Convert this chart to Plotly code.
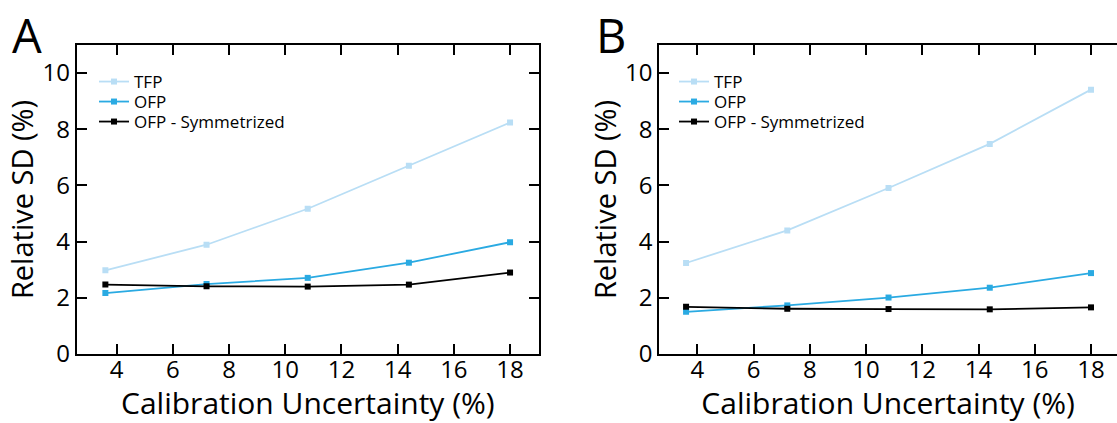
import plotly.graph_objects as go

x_vals = [3.6, 7.2, 10.8, 14.4, 18.0]

a_tfp = [2.98, 3.89, 5.17, 6.70, 8.24]
a_ofp = [2.17, 2.49, 2.71, 3.25, 3.98]
a_sym = [2.47, 2.41, 2.40, 2.47, 2.90]

b_tfp = [3.24, 4.40, 5.91, 7.48, 9.41]
b_ofp = [1.50, 1.73, 2.01, 2.36, 2.88]
b_sym = [1.68, 1.61, 1.60, 1.59, 1.66]

series_names = ["TFP", "OFP", "OFP - Symmetrized"]
series_colors = ["#b9def5", "#2aaae2", "#000000"]

x_ticks = [4, 6, 8, 10, 12, 14, 16, 18]
y_ticks = [0, 2, 4, 6, 8, 10]
x_title = "Calibration Uncertainty (%)"
y_title = "Relative SD (%)"
panel_labels = ["A", "B"]

FONT = "Open Sans"
W, H = 1117, 423

# pixel geometry
mt, mb = 45, 69
ph = H - mt - mb
ax_l, ax_r = 76.7, 539.0
bx_l = 659.3
legend_rows_px = [82, 102, 122]
legend_x_px = [94, 674]

fig = go.Figure()
layout_legends = {}
lid = 1
for p, (xa, ya, data) in enumerate([("x", "y", [a_tfp, a_ofp, a_sym]),
                                     ("x2", "y2", [b_tfp, b_ofp, b_sym])]):
    for k, (name, col, ys) in enumerate(zip(series_names, series_colors, data)):
        key = "legend" if lid == 1 else f"legend{lid}"
        fig.add_trace(go.Scatter(x=x_vals, y=ys, mode="lines+markers", name=name,
                                 line=dict(color=col, width=1.8),
                                 marker=dict(symbol="square", size=6, color=col),
                                 xaxis=xa, yaxis=ya, showlegend=True, legend=key))
        layout_legends[key] = dict(
            x=legend_x_px[p] / W, y=1 - (legend_rows_px[k] - mt) / ph,
            xanchor="left", yanchor="middle",
            font=dict(family=FONT, size=17, color="black"),
            bgcolor="rgba(0,0,0,0)", itemwidth=30)
        lid += 1

common_x = dict(tickvals=x_ticks, ticks="inside", ticklen=10, tickwidth=2, tickcolor="black",
                showline=True, linewidth=2, linecolor="black", mirror="ticks",
                showgrid=False, zeroline=False, automargin=False, ticklabelstandoff=-7,
                tickfont=dict(family=FONT, size=24, color="black"),
                title=dict(text=x_title, font=dict(family=FONT, size=30, color="black"), standoff=8))
common_y = dict(tickvals=y_ticks, ticks="inside", ticklen=10, tickwidth=2, tickcolor="black",
                showline=True, linewidth=2, linecolor="black",
                showgrid=False, zeroline=False, automargin=False, range=[0, 11],
                tickfont=dict(family=FONT, size=24, color="black"),
                title=dict(text=y_title, font=dict(family=FONT, size=29, color="black"), standoff=0))

fig.update_layout(
    width=W, height=H,
    margin=dict(l=0, r=0, t=mt, b=mb),
    paper_bgcolor="white", plot_bgcolor="white",
    template="none",
    xaxis=dict(domain=[ax_l / W, ax_r / W], range=[2.58, 19.03], anchor="y", **common_x),
    yaxis=dict(domain=[0, 1], anchor="x", mirror="ticks", **common_y),
    xaxis2=dict(domain=[bx_l / W, 1.0], range=[2.648, 18.925], anchor="y2", **common_x),
    yaxis2=dict(domain=[0, 1], anchor="x2", mirror=False, **common_y),
    yaxis3=dict(overlaying="y2", side="right", anchor="x2", range=[0, 11], tickvals=y_ticks,
                ticks="inside", ticklen=10, tickwidth=2, tickcolor="black",
                showticklabels=False, showline=False, showgrid=False, zeroline=False),
    **layout_legends,
)

for lab, xp in zip(panel_labels, [10 / W, 594 / W]):
    fig.add_annotation(text=lab, x=xp, y=1 + mt / ph, xref="paper", yref="paper",
                       xanchor="left", yanchor="top", yshift=-1, showarrow=False,
                       font=dict(family=FONT, size=47, color="black"))

fig.write_html("out.html", config={"displayModeBar": False},
               post_script="document.body.style.margin='0';document.body.style.overflow='hidden';")
